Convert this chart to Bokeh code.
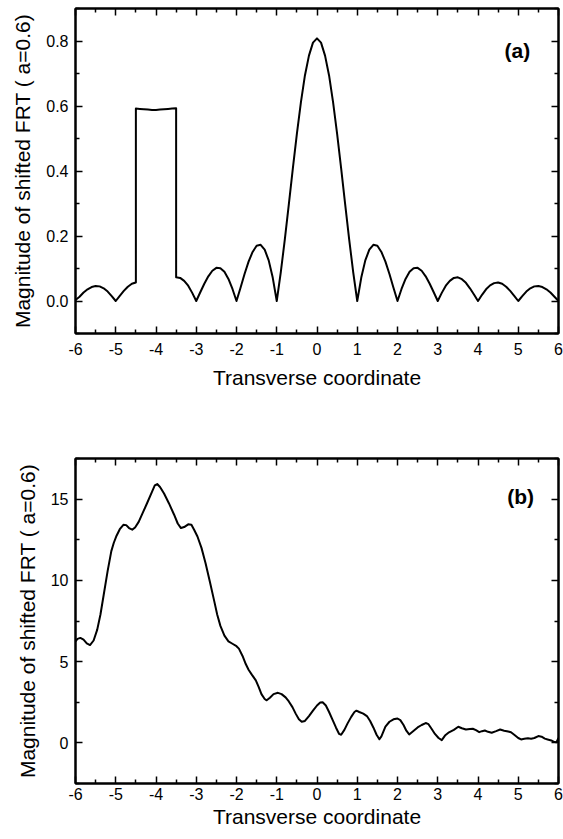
from bokeh.plotting import figure
from bokeh.layouts import column
from bokeh.models import LinearAxis, FixedTicker, Label, Range1d, CustomLabelingPolicy
from bokeh.embed import file_html
from bokeh.resources import INLINE

# ---------------- data ----------------
x_ticks = [-6, -5, -4, -3, -2, -1, 0, 1, 2, 3, 4, 5, 6]
x_tick_labels = ["-6", "-5", "-4", "-3", "-2", "-1", "0", "1", "2", "3", "4", "5", "6"]
x_minor = [-5.5, -4.5, -3.5, -2.5, -1.5, -0.5, 0.5, 1.5, 2.5, 3.5, 4.5, 5.5]

a_y_ticks = [0.0, 0.2, 0.4, 0.6, 0.8]
a_y_tick_labels = ["0.0", "0.2", "0.4", "0.6", "0.8"]
a_y_minor = [-0.1, 0.1, 0.3, 0.5, 0.7, 0.9]

b_y_ticks = [0, 5, 10, 15]
b_y_tick_labels = ["0", "5", "10", "15"]
b_y_minor = [-2.5, 2.5, 7.5, 12.5, 17.5]

# panel (a): magnitude of shifted FRT
a_x = [-6.0, -5.9, -5.8, -5.7, -5.6, -5.5, -5.4, -5.3, -5.2, -5.1, -5.0,
       -4.9, -4.8, -4.7, -4.6, -4.5,
       -4.5, -4.4, -4.3, -4.2, -4.1, -4.0, -3.9, -3.8, -3.7, -3.6, -3.5,
       -3.5, -3.4, -3.3, -3.2, -3.1, -3.0,
       -2.9, -2.8, -2.7, -2.6, -2.5, -2.4, -2.3, -2.2, -2.1, -2.0,
       -1.9, -1.8, -1.7, -1.6, -1.5, -1.4, -1.3, -1.2, -1.1, -1.0,
       -0.9, -0.8, -0.7, -0.6, -0.5, -0.4, -0.3, -0.2, -0.1, 0.0,
       0.1, 0.2, 0.3, 0.4, 0.5, 0.6, 0.7, 0.8, 0.9, 1.0,
       1.1, 1.2, 1.3, 1.4, 1.5, 1.6, 1.7, 1.8, 1.9, 2.0,
       2.1, 2.2, 2.3, 2.4, 2.5, 2.6, 2.7, 2.8, 2.9, 3.0,
       3.1, 3.2, 3.3, 3.4, 3.5, 3.6, 3.7, 3.8, 3.9, 4.0,
       4.1, 4.2, 4.3, 4.4, 4.5, 4.6, 4.7, 4.8, 4.9, 5.0,
       5.1, 5.2, 5.3, 5.4, 5.5, 5.6, 5.7, 5.8, 5.9, 6.0]
a_y = [0.003, 0.013, 0.026, 0.036, 0.043, 0.046, 0.045, 0.039, 0.029, 0.015, 0.0,
       0.016, 0.031, 0.044, 0.053, 0.057,
       0.592, 0.591, 0.590, 0.589, 0.588, 0.588, 0.589, 0.590, 0.591, 0.592, 0.593,
       0.073, 0.071, 0.062, 0.047, 0.025, 0.0,
       0.027, 0.053, 0.076, 0.093, 0.102, 0.101, 0.090, 0.068, 0.037, 0.0,
       0.041, 0.083, 0.121, 0.151, 0.170, 0.173, 0.158, 0.125, 0.072, 0.0,
       0.088, 0.189, 0.297, 0.408, 0.514, 0.611, 0.694, 0.755, 0.795, 0.808,
       0.795, 0.755, 0.694, 0.611, 0.514, 0.408, 0.297, 0.189, 0.088, 0.0,
       0.072, 0.125, 0.158, 0.173, 0.170, 0.151, 0.121, 0.083, 0.041, 0.0,
       0.037, 0.068, 0.090, 0.101, 0.102, 0.093, 0.076, 0.053, 0.027, 0.0,
       0.025, 0.047, 0.062, 0.071, 0.073, 0.067, 0.056, 0.039, 0.020, 0.0,
       0.019, 0.036, 0.048, 0.055, 0.057, 0.053, 0.044, 0.031, 0.016, 0.0,
       0.015, 0.029, 0.039, 0.045, 0.046, 0.043, 0.036, 0.026, 0.013, 0.0]

# panel (b)
b_x = [-6.0, -5.95, -5.88, -5.8, -5.72, -5.64, -5.55, -5.46, -5.38, -5.3,
       -5.2, -5.11, -5.05, -4.98, -4.9, -4.81, -4.74, -4.67, -4.59, -4.52,
       -4.43, -4.33, -4.22, -4.1, -4.03, -3.97, -3.9, -3.8, -3.68, -3.55,
       -3.46, -3.38, -3.3, -3.2, -3.12, -3.05, -2.97, -2.87, -2.77, -2.66,
       -2.56, -2.48, -2.4, -2.3, -2.2, -2.1, -2.0, -1.94, -1.85, -1.77,
       -1.7, -1.62, -1.52, -1.45, -1.38, -1.3, -1.25, -1.17, -1.08, -0.97,
       -0.88, -0.78, -0.7, -0.61, -0.53, -0.45, -0.38, -0.3, -0.2, -0.1,
       0.0, 0.08, 0.14, 0.22, 0.3, 0.39, 0.47, 0.55, 0.6, 0.68,
       0.76, 0.85, 0.93, 0.98, 1.05, 1.15, 1.24, 1.32, 1.4, 1.48,
       1.55, 1.6, 1.7, 1.8, 1.9, 2.0, 2.07, 2.15, 2.22, 2.29,
       2.38, 2.5, 2.6, 2.7, 2.77, 2.85, 2.93, 3.02, 3.1, 3.18,
       3.28, 3.4, 3.51, 3.6, 3.7, 3.8, 3.87, 3.95, 4.03, 4.1,
       4.17, 4.25, 4.34, 4.45, 4.55, 4.65, 4.75, 4.82, 4.9, 5.0,
       5.07, 5.15, 5.24, 5.32, 5.4, 5.5, 5.58, 5.66, 5.73, 5.82,
       5.9, 5.95, 6.0]
b_y = [6.25, 6.4, 6.46, 6.35, 6.12, 6.02, 6.3, 6.97, 7.9, 9.1,
       10.6, 11.8, 12.3, 12.75, 13.15, 13.42, 13.4, 13.22, 13.12, 13.25,
       13.6, 14.15, 14.76, 15.45, 15.85, 15.93, 15.75, 15.35, 14.75, 14.04,
       13.5, 13.22, 13.28, 13.45, 13.42, 13.1, 12.7, 12.0, 11.07, 9.9,
       8.8, 7.9, 7.2, 6.6, 6.25, 6.1, 5.95, 5.8, 5.35, 4.85,
       4.5, 4.2, 3.85, 3.45, 3.0, 2.7, 2.62, 2.78, 3.0, 3.08,
       3.0, 2.8, 2.55, 2.2, 1.8, 1.45, 1.3, 1.35, 1.65, 1.98,
       2.3, 2.48, 2.5, 2.3, 1.9, 1.4, 0.95, 0.55, 0.5, 0.8,
       1.2, 1.6, 1.9, 1.98, 1.9, 1.8, 1.65, 1.35, 0.95, 0.5,
       0.22, 0.4, 1.0, 1.3, 1.45, 1.5, 1.4, 1.1, 0.75, 0.52,
       0.7, 0.95, 1.1, 1.22, 1.15, 0.85, 0.55, 0.3, 0.17, 0.45,
       0.65, 0.8, 0.99, 0.9, 0.82, 0.86, 0.87, 0.78, 0.66, 0.72,
       0.76, 0.68, 0.62, 0.72, 0.82, 0.75, 0.7, 0.65, 0.5, 0.3,
       0.21, 0.25, 0.28, 0.26, 0.3, 0.42, 0.38, 0.26, 0.21, 0.15,
       0.05, 0.04, 0.3]

FONT = "Liberation Sans"
XLABEL = "Transverse coordinate"
YLABEL = "Magnitude of shifted FRT ( a=0.6)"

NO_LABELS_JS = """
try {
    for (const i of [...indices]) { indices.unset(i) }
    return indices
} catch (e) {
    return new Set()
}
"""


def style_axis(ax, ticks, minor, overrides, show_labels):
    ax.ticker = FixedTicker(ticks=ticks, minor_ticks=minor)
    ax.axis_line_color = "black"
    ax.axis_line_width = 2
    ax.major_tick_line_color = "black"
    ax.major_tick_line_width = 1.5
    ax.minor_tick_line_color = "black"
    ax.minor_tick_line_width = 1.5
    ax.major_tick_in = 7
    ax.major_tick_out = 0
    ax.minor_tick_in = 4
    ax.minor_tick_out = 0
    if show_labels:
        ax.major_label_overrides = dict(zip(ticks, overrides))
        ax.major_label_text_font = FONT
        ax.major_label_text_font_size = "16px"
        ax.major_label_text_color = "black"
    else:
        ax.major_label_policy = CustomLabelingPolicy(code=NO_LABELS_JS)
        ax.major_label_text_font_size = "1px"
        ax.major_label_standoff = 0


def make_panel(height, top, bottom, yr, xs, ys, yticks, yminor, ylabels,
               tag, tag_x, tag_y, tick_standoff, label_standoff):
    p = figure(width=563, height=height, output_backend="svg",
               toolbar_location=None, x_range=Range1d(-6, 6), y_range=Range1d(*yr),
               min_border_left=75, min_border_right=5,
               min_border_top=top, min_border_bottom=bottom)
    p.background_fill_color = "white"
    p.border_fill_color = "white"
    p.outline_line_color = "black"
    p.outline_line_width = 2
    p.grid.visible = False

    style_axis(p.xaxis[0], x_ticks, x_minor, x_tick_labels, True)
    style_axis(p.yaxis[0], yticks, yminor, ylabels, True)
    p.xaxis[0].major_label_standoff = tick_standoff
    p.yaxis[0].major_label_standoff = 7
    p.xaxis[0].axis_label = XLABEL
    p.yaxis[0].axis_label = YLABEL
    for ax in (p.xaxis[0], p.yaxis[0]):
        ax.axis_label_text_font = FONT
        ax.axis_label_text_font_size = "21px"
        ax.axis_label_text_font_style = "normal"
        ax.axis_label_text_color = "black"
    p.xaxis[0].axis_label_standoff = label_standoff
    p.yaxis[0].axis_label_standoff = 9

    top_ax = LinearAxis()
    style_axis(top_ax, x_ticks, x_minor, x_tick_labels, False)
    p.add_layout(top_ax, "above")
    right_ax = LinearAxis()
    style_axis(right_ax, yticks, yminor, ylabels, False)
    p.add_layout(right_ax, "right")

    p.line(xs, ys, line_color="black", line_width=2, line_join="round")

    p.add_layout(Label(x=tag_x, y=tag_y, text=tag, text_font=FONT,
                       text_font_size="21px", text_font_style="bold",
                       text_align="center", text_baseline="middle",
                       text_color="black"))
    return p


pa = make_panel(410, 8, 77, (-0.1, 0.9), a_x, a_y, a_y_ticks, a_y_minor,
                a_y_tick_labels, "(a)", 4.98, 0.77, 9, 8)
pb = make_panel(429, 48, 56, (-2.5, 17.5), b_x, b_y, b_y_ticks, b_y_minor,
                b_y_tick_labels, "(b)", 5.06, 15.15, 4, 2)

layout = column(pa, pb, spacing=0)

with open("out.html", "w") as f:
    f.write(file_html(layout, INLINE))
